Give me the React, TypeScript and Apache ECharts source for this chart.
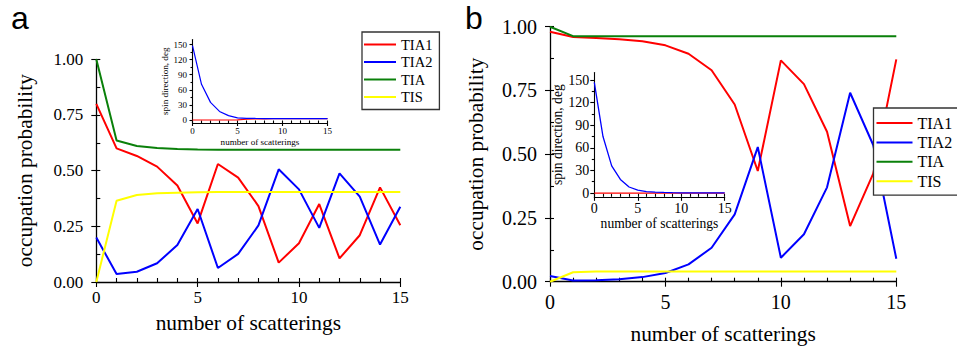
import React, { useEffect, useRef } from "react";
import * as echarts from "echarts";

const FONT = "Liberation Serif";
const SANS = "Liberation Sans";

const xs = [0, 1, 2, 3, 4, 5, 6, 7, 8, 9, 10, 11, 12, 13, 14, 15];
const seriesNames = ["TIA1", "TIA2", "TIA", "TIS"];

// panel a (main)
const aTIA1 = [0.8, 0.6, 0.566, 0.518, 0.433, 0.263, 0.53, 0.469, 0.341, 0.087, 0.174, 0.35, 0.106, 0.21, 0.425, 0.255];
const aTIA2 = [0.2, 0.036, 0.046, 0.084, 0.166, 0.328, 0.063, 0.126, 0.254, 0.506, 0.416, 0.243, 0.488, 0.383, 0.168, 0.338];
const aTIA = [1.0, 0.635, 0.611, 0.602, 0.597, 0.595, 0.594, 0.594, 0.594, 0.594, 0.594, 0.594, 0.594, 0.594, 0.594, 0.594];
const aTIS = [0.0, 0.365, 0.391, 0.398, 0.401, 0.403, 0.404, 0.404, 0.404, 0.404, 0.404, 0.404, 0.404, 0.404, 0.404, 0.404];

// panel b (main)
const bTIA1 = [0.98, 0.96, 0.956, 0.951, 0.943, 0.927, 0.894, 0.829, 0.695, 0.434, 0.868, 0.775, 0.588, 0.218, 0.424, 0.872];
const bTIA2 = [0.022, 0.005, 0.006, 0.01, 0.018, 0.034, 0.068, 0.133, 0.264, 0.528, 0.094, 0.186, 0.37, 0.741, 0.536, 0.09];
const bTIA = [1.0, 0.963, 0.963, 0.963, 0.963, 0.963, 0.963, 0.963, 0.963, 0.963, 0.963, 0.963, 0.963, 0.963, 0.963, 0.963];
const bTIS = [0.0, 0.037, 0.04, 0.04, 0.04, 0.04, 0.04, 0.04, 0.04, 0.04, 0.04, 0.04, 0.04, 0.04, 0.04, 0.04];

// insets: spin direction, deg
const aInTIA1 = [0, 0, 0, 0, 0, 0.3, 1.5, 2.0, 2.3, 2.4, 2.5, 2.5, 2.5, 2.5, 2.5, 2.5];
const aInTIA2 = [148, 71, 35, 17, 8.6, 4.2, 3.3, 3.0, 2.8, 2.7, 2.6, 2.5, 2.5, 2.5, 2.5, 2.5];
const bInTIA1 = [0, 0, 0, 0, 0, 0, 0, 0, 0, 0, 0, 0, 0, 0, 0, 0];
const bInTIA2 = [147, 75, 36, 18, 8, 4, 2, 1.3, 0.8, 0.5, 0.3, 0.2, 0.1, 0.1, 0.1, 0.1];

const mainYTicks = [0, 0.25, 0.5, 0.75, 1.0];
const insetYTicks = [0, 30, 60, 90, 120, 150];
const insetYMinor = [15, 45, 75, 105, 135];

const COLORS: Record<string, string> = {
  TIA1: "#ff0000",
  TIA2: "#0000ff",
  TIA: "#0a800a",
  TIS: "#ffff00",
};

function pairs(arr: number[]) {
  return xs.map((x, i) => [x, arr[i]]);
}

export default function App() {
  const ref = useRef<HTMLDivElement>(null);

  useEffect(() => {
    if (!ref.current) return;
    const chart = echarts.init(ref.current, undefined, { renderer: "svg" });

    const axisLineStyle = { color: "#000", width: 1.3 };
    const tickStyle = { color: "#000", width: 1.1 };

    const majorX = (grid: number, fs: number, margin: number, nameGap: number, nameFs: number, tickLen: number) => ({
      gridIndex: grid,
      type: "value",
      min: 0,
      max: 15,
      interval: 5,
      position: "bottom",
      axisLine: { onZero: false, lineStyle: axisLineStyle },
      axisTick: { inside: false, length: tickLen, lineStyle: tickStyle },
      axisLabel: { fontFamily: FONT, fontSize: fs, color: "#000", margin },
      splitLine: { show: false },
      name: "number of scatterings",
      nameLocation: "middle",
      nameGap,
      nameTextStyle: { fontFamily: FONT, fontSize: nameFs, color: "#000" },
    });
    const minorX = (grid: number, len: number) => ({
      gridIndex: grid,
      type: "value",
      min: 0,
      max: 15,
      interval: 1,
      position: "bottom",
      axisLine: { show: false, onZero: false },
      axisTick: { inside: true, length: len, lineStyle: tickStyle },
      axisLabel: { show: false },
      splitLine: { show: false },
    });

    const mainY = (grid: number, fs: number, margin: number, nameGap: number) => ({
      gridIndex: grid,
      type: "value",
      min: 0,
      max: 1,
      interval: 0.25,
      position: "left",
      axisLine: { show: true, onZero: false, lineStyle: axisLineStyle },
      axisTick: { show: true, inside: false, length: 5, lineStyle: tickStyle },
      axisLabel: {
        fontFamily: FONT,
        fontSize: fs,
        color: "#000",
        margin,
        formatter: (v: number) => v.toFixed(2),
        customValues: mainYTicks,
      },
      splitLine: { show: false },
      name: "occupation probability",
      nameLocation: "middle",
      nameGap,
      nameRotate: 90,
      nameTextStyle: { fontFamily: FONT, fontSize: 21.4, color: "#000" },
    });
    const mainYMinor = (grid: number) => ({
      gridIndex: grid,
      type: "value",
      min: 0,
      max: 1,
      interval: 0.125,
      position: "left",
      axisLine: { show: false, onZero: false },
      axisTick: { show: true, inside: true, length: 4, lineStyle: tickStyle },
      axisLabel: { show: false },
      splitLine: { show: false },
    });

    const insetY = (grid: number, min: number, fs: number, nameFs: number, margin: number, nameGap: number, tickLen: number) => ({
      gridIndex: grid,
      type: "value",
      min,
      max: 160,
      position: "left",
      axisLine: { show: true, onZero: false, lineStyle: { color: "#000", width: 1.1 } },
      axisTick: { show: true, inside: false, length: tickLen, lineStyle: tickStyle, customValues: insetYTicks },
      axisLabel: { fontFamily: FONT, fontSize: fs, color: "#000", margin, customValues: insetYTicks },
      splitLine: { show: false },
      name: "spin direction, deg",
      nameLocation: "middle",
      nameGap,
      nameRotate: 90,
      nameTextStyle: { fontFamily: FONT, fontSize: nameFs, color: "#000" },
    });
    const insetYMinorAxis = (grid: number, min: number, len: number) => ({
      gridIndex: grid,
      type: "value",
      min,
      max: 160,
      position: "left",
      axisLine: { show: false, onZero: false },
      axisTick: { show: true, inside: false, length: len, lineStyle: tickStyle, customValues: insetYMinor },
      axisLabel: { show: false },
      splitLine: { show: false },
    });
    const insetX = (grid: number, fs: number, nameFs: number, margin: number, nameGap: number, tickLen: number) => ({
      ...majorX(grid, fs, margin, nameGap, nameFs, tickLen),
      axisLine: { onZero: false, lineStyle: { color: "#000", width: 1.1 } },
    });

    const mk = (name: string, data: number[], xi: number, yi: number, width: number, legendName?: string) => ({
      type: "line",
      name: legendName ?? name,
      xAxisIndex: xi,
      yAxisIndex: yi,
      data: pairs(data),
      symbol: "none",
      showSymbol: false,
      lineStyle: { color: COLORS[name], width },
      itemStyle: { color: COLORS[name] },
      z: 2,
    });

    const legendBase = {
      data: seriesNames,
      orient: "vertical",
      icon: "rect",
      itemHeight: 2,
      borderColor: "#333",
      borderWidth: 1.3,
      backgroundColor: "#fff",
      selectedMode: false,
    };

    chart.setOption({
      animation: false,
      backgroundColor: "#fff",
      textStyle: { fontFamily: FONT },
      grid: [
        { left: 96.3, top: 59.3, width: 304, height: 222.7 },
        { left: 550, top: 26.7, width: 346.3, height: 255 },
        { left: 192.5, top: 39.5, width: 135, height: 83.5 },
        { left: 594.3, top: 72.5, width: 130.4, height: 124.3 },
      ],
      xAxis: [
        majorX(0, 17, 7, 30, 21.4, 5),
        minorX(0, 4),
        majorX(1, 20, 10, 42, 21.4, 5),
        minorX(1, 4),
        insetX(2, 9, 9.1, 3.5, 14, 3),
        minorX(2, 2.5),
        insetX(3, 14, 13.6, 5, 18, 4),
        minorX(3, 3),
      ],
      yAxis: [
        mainY(0, 17, 13, 60.5),
        mainYMinor(0),
        mainY(1, 20, 13, 64),
        mainYMinor(1),
        insetY(2, -6, 9, 9.1, 5.5, 23, 3),
        insetYMinorAxis(2, -6, 2),
        insetY(3, -5, 14, 13.6, 5, 27.5, 4),
        insetYMinorAxis(3, -5, 2.5),
      ],
      legend: [
        {
          ...legendBase,
          left: 362,
          top: 32,
          itemWidth: 32,
          itemGap: 2.5,
          padding: [5, 7, 5, 2],
          textStyle: { fontFamily: FONT, fontSize: 14.5, color: "#000" },
        },
        {
          ...legendBase,
          left: 873.5,
          top: 108,
          itemWidth: 36,
          itemGap: 3.4,
          padding: [7, 9, 6, 3],
          textStyle: { fontFamily: FONT, fontSize: 16, color: "#000" },
        },
      ],
      series: [
        mk("TIA1", aTIA1, 0, 0, 2),
        mk("TIA2", aTIA2, 0, 0, 2),
        mk("TIA", aTIA, 0, 0, 2),
        mk("TIS", aTIS, 0, 0, 2),
        mk("TIA1", bTIA1, 2, 2, 2),
        mk("TIA2", bTIA2, 2, 2, 2),
        mk("TIA", bTIA, 2, 2, 2),
        mk("TIS", bTIS, 2, 2, 2),
        mk("TIA1", aInTIA1, 4, 4, 1.2, "inset a TIA1"),
        mk("TIA2", aInTIA2, 4, 4, 1.2, "inset a TIA2"),
        mk("TIA1", bInTIA1, 6, 6, 1.3, "inset b TIA1"),
        mk("TIA2", bInTIA2, 6, 6, 1.3, "inset b TIA2"),
      ],
      graphic: [
        {
          type: "text",
          left: 11,
          top: 2,
          style: { text: "a", fontFamily: SANS, fontSize: 32, fill: "#000" },
        },
        {
          type: "text",
          left: 465,
          top: 2,
          style: { text: "b", fontFamily: SANS, fontSize: 32, fill: "#000" },
        },
      ],
    });

    return () => chart.dispose();
  }, []);

  return (
    <div
      ref={ref}
      style={{ position: "fixed", left: 0, top: 0, width: 957, height: 352 }}
    />
  );
}
